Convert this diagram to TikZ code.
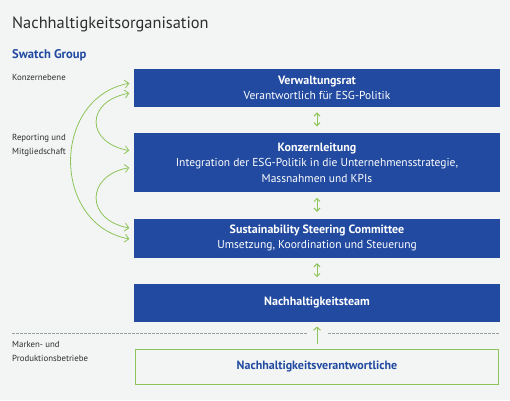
\documentclass[tikz,border=0pt]{standalone}
\usepackage{fontspec}
\setmainfont{PT Sans}
\usetikzlibrary{arrows.meta,positioning,calc}
\definecolor{sgblue}{RGB}{33,74,160}
\definecolor{sggreen}{RGB}{141,196,88}
\definecolor{sgbg}{RGB}{243,245,245}
\definecolor{sgtext}{RGB}{45,45,45}
\definecolor{sgdash}{RGB}{150,160,165}
\newcommand{\boxhead}[1]{{\fontsize{12}{15}\selectfont\bfseries #1}}

\begin{document}
\begin{tikzpicture}[
    x=1pt,y=-1pt,
    node distance=27pt,
    org/.style={draw=sgblue,fill=sgblue,text=white,minimum width=365pt,
               minimum height=37pt,inner sep=0pt,align=center,
               font=\fontsize{11.5}{15.5}\selectfont},
    unit/.style={draw=sggreen,line width=1.2pt,minimum width=363pt,
               minimum height=35pt,inner sep=0pt,text=sgblue,
               font=\fontsize{12}{15}\selectfont\bfseries},
    side/.style={anchor=base west,inner sep=0pt,align=left,text=sgtext,
               font=\fontsize{8.8}{14}\selectfont},
    link/.style={{Straight Barb[length=4pt,width=8pt]}-{Straight Barb[length=4pt,width=8pt]},
               sggreen,line width=0.8pt},
    vlink/.style={{Straight Barb[length=3pt,width=6pt]}-{Straight Barb[length=3pt,width=6pt]},
               sggreen,line width=1pt},
    uplink/.style={-{Straight Barb[length=3pt,width=7pt]},sggreen,line width=1pt},
    sepline/.style={sgdash,line width=0.6pt,dash pattern=on 2.5pt off 1.5pt}
  ]
    \fill[sgbg] (0,0) rectangle (510,400);

    %% headings and side labels
    \node[anchor=base west,inner sep=0pt,text=sgtext,font=\fontsize{16.4}{18}\selectfont]
      (title) at (12,28) {Nachhaltigkeitsorganisation};
    \node[anchor=base west,inner sep=0pt,text=sgblue,font=\fontsize{12.6}{14}\selectfont\bfseries]
      (group) at (12,58) {Swatch Group};
    \node[side] (lvl) at (12,80) {Konzernebene};
    \node[side] (rep) at (12,154) {Reporting und\\Mitgliedschaft};
    \node[side] (brand) at (12,361) {Marken- und\\Produktionsbetriebe};

    %% organisation boxes
    \node[org,anchor=north] (vr) at (317,69)
      {\boxhead{Verwaltungsrat}\\Verantwortlich für ESG-Politik};
    \node[org,below=of vr,minimum height=58pt] (kl)
      {\boxhead{Konzernleitung}\\Integration der ESG-Politik in die Unternehmensstrategie,\\Massnahmen und KPIs};
    \node[org,below=of kl,minimum height=38pt] (ssc)
      {\boxhead{Sustainability Steering Committee}\\Umsetzung, Koordination und Steuerung};
    \node[org,below=of ssc] (team) {\boxhead{Nachhaltigkeitsteam}};
    \node[unit,below=of team] (nv) {Nachhaltigkeitsverantwortliche};

    %% vertical links
    \draw[vlink] ($(vr.south)+(0,6)$) -- ($(kl.north)+(0,-7)$);
    \draw[vlink] ($(kl.south)+(0,6)$) -- ($(ssc.north)+(0,-7)$);
    \draw[vlink] ($(ssc.south)+(0,6)$) -- ($(team.north)+(0,-7)$);
    \draw[uplink] ($(nv.north)+(0,-5)$) -- ($(team.south)+(0,5)$);

    %% reporting curves
    \draw[link] ($(vr.west)+(-5,-4.5)$) .. controls +(-78,15) and +(-78,-15) .. ($(ssc.west)+(-5,1)$);
    \draw[link] ($(vr.west)+(-5,5.5)$) .. controls +(-44,8) and +(-44,-8) .. ($(kl.west)+(-5,-12)$);
    \draw[link] ($(kl.west)+(-5,5)$) .. controls +(-44,8) and +(-44,-8) .. ($(ssc.west)+(-5,-10)$);

    %% separator
    \draw[sepline] (12,333) -- (307,333) (328,333) -- (500,333);
  \end{tikzpicture}
\end{document}
